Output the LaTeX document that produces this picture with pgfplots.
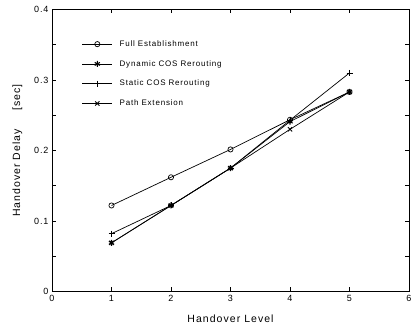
\documentclass[border=0pt]{standalone}
\usepackage{pgfplots}
\pgfplotsset{compat=1.18}
\usepackage{fontspec}
\setmainfont{Liberation Sans}
\newfontfamily\wide[LetterSpace=10]{Liberation Sans}
\begin{document}
\begin{tikzpicture}
\begin{axis}[
  name=ax,
  scale only axis,
  width=357pt, height=282pt,
  xmin=0, xmax=6, ymin=0, ymax=0.4,
  xtick={0,1,2,3,4,5,6},
  ytick={0,0.1,0.2,0.3,0.4},
  yticklabels={0,0.1,0.2,0.3,0.4},
  minor y tick num=1,
  tick align=inside,
  major tick length=4pt,
  minor tick length=4pt,
  tick style={black, line width=0.6pt},
  axis line style={line width=0.8pt},
  /pgf/number format/assume math mode=true,
  ticklabel style={font=\wide\fontsize{9}{10}\selectfont},
  xlabel={Handover Level},
  ylabel={Handover Delay\quad\ \ [sec]},
  label style={font=\wide\fontsize{10.5}{11}\selectfont},
  xlabel style={yshift=-7pt},
  ylabel style={yshift=5pt},
  legend style={at={(0.075,0.905)}, anchor=north west, draw=none, fill=none,
    font=\wide\fontsize{8}{9}\selectfont, row sep=8.5pt,
    cells={anchor=west}},
  legend cell align=left,
  legend image code/.code={\draw[mark repeat=2,mark phase=2,#1] plot coordinates {(0pt,0pt) (15pt,0pt) (30pt,0pt)};},
]
\addplot[black, line width=0.7pt, mark=o, mark size=2.6pt, mark options={solid, fill=white}] coordinates {(1,0.122) (2,0.162) (3,0.2015) (4,0.2436) (5,0.283)};
\addlegendentry{\hspace{5pt}Full Establishment}
\addplot[black, line width=0.7pt, mark=asterisk, mark size=3pt, mark options={line width=1.1pt}] coordinates {(1,0.069) (2,0.122) (3,0.175) (4,0.241) (5,0.283)};
\addlegendentry{\hspace{5pt}Dynamic COS Rerouting}
\addplot[black, line width=0.7pt, mark=+, mark size=3pt] coordinates {(1,0.082) (2,0.122) (3,0.175) (4,0.243) (5,0.31)};
\addlegendentry{\hspace{5pt}Static COS Rerouting}
\addplot[black, line width=0.7pt, mark=x, mark size=3pt, mark options={line width=0.9pt}] coordinates {(1,0.069) (2,0.122) (3,0.175) (4,0.230) (5,0.283)};
\addlegendentry{\hspace{5pt}Path Extension}
\end{axis}
\pgfresetboundingbox
\path ([xshift=-52pt,yshift=-38pt]ax.south west) rectangle ([xshift=4pt,yshift=9.5pt]ax.north east);
\end{tikzpicture}
\end{document}
